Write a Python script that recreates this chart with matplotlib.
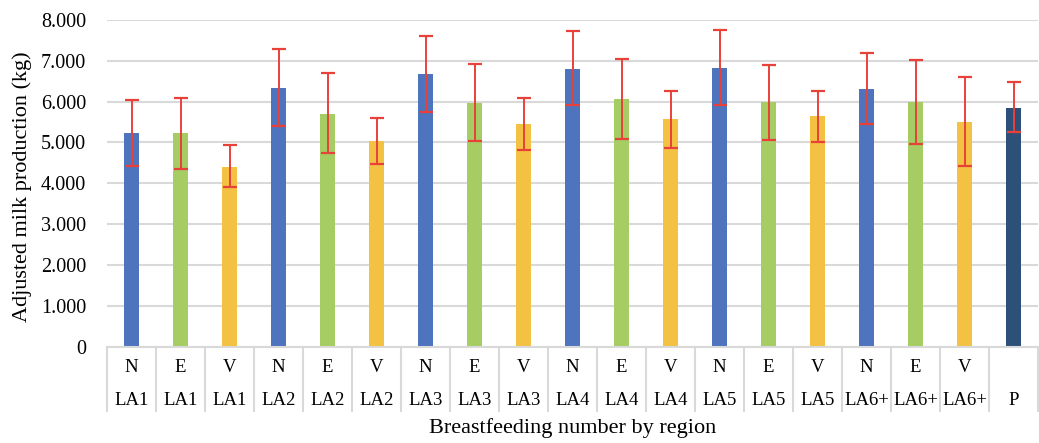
import numpy as np
import matplotlib.pyplot as plt
import matplotlib.transforms as mtransforms

# Values
regions = ['N', 'E', 'V'] * 6 + ['']
lactations = ['LA1'] * 3 + ['LA2'] * 3 + ['LA3'] * 3 + ['LA4'] * 3 + ['LA5'] * 3 + ['LA6+'] * 3 + ['P']
means = [5.22, 5.22, 4.41, 6.34, 5.70, 5.03, 6.68, 5.97, 5.44, 6.81,
         6.06, 5.57, 6.82, 5.99, 5.64, 6.31, 5.99, 5.50, 5.85]
err_top = [6.04, 6.09, 4.94, 7.29, 6.69, 5.60, 7.62, 6.92, 6.09, 7.72,
           7.04, 6.27, 7.76, 6.90, 6.27, 7.20, 7.02, 6.61, 6.48]
err_bottom = [4.42, 4.36, 3.91, 5.40, 4.74, 4.47, 5.75, 5.04, 4.82, 5.92,
              5.08, 4.87, 5.92, 5.06, 5.02, 5.45, 4.97, 4.43, 5.26]
yticks = [0, 1, 2, 3, 4, 5, 6, 7, 8]
ytick_labels = ['0', '1.000', '2.000', '3.000', '4.000', '5.000', '6.000', '7.000', '8.000']

colour_of = {'N': '#4F74BE', 'E': '#A5CD63', 'V': '#F4C242', '': '#2D5079'}

plt.rcParams['font.family'] = ['Liberation Serif', 'DejaVu Serif']

fig = plt.figure(figsize=(10.39, 4.43), dpi=100)
ax = fig.add_axes([107 / 1039, 1 - 346.5 / 443, (1038 - 107) / 1039, (346.5 - 20) / 443])

x = np.arange(len(means))
colours = [colour_of[r] for r in regions]
ax.bar(x, means, width=0.31, color=colours, zorder=2)

means_arr = np.array(means)
yerr = [means_arr - np.array(err_bottom), np.array(err_top) - means_arr]
ax.errorbar(x, means, yerr=yerr, fmt='none', ecolor='#E8413A', elinewidth=1.4,
            capsize=5, capthick=1.6, zorder=3)

ax.set_xlim(-0.5, len(means) - 0.5)
ax.set_ylim(0, 8)
ax.set_yticks(yticks)
ax.set_yticklabels(ytick_labels, fontsize=14.5)
ax.grid(axis='y', color='#D9D9D9', linewidth=1.5, zorder=0)
ax.set_axisbelow(True)
for side in ['top', 'right', 'left']:
    ax.spines[side].set_visible(False)
ax.spines['bottom'].set_color('#D9D9D9')
ax.spines['bottom'].set_linewidth(1.5)
ax.tick_params(axis='y', length=0, pad=15)
ax.tick_params(axis='x', length=0, labelbottom=False)
ax.set_xticks([])

# two-level category axis drawn as a small table
trans = mtransforms.blended_transform_factory(ax.transData, ax.transAxes)
px = 1 / (346.5 - 20)
for i in range(len(means) + 1):
    ax.plot([i - 0.5, i - 0.5], [0, -64 * px], transform=trans, color='#D9D9D9',
            linewidth=1.5, clip_on=False)
for i in range(len(means)):
    ax.text(i, -21 * px, regions[i], transform=trans, ha='center', va='center', fontsize=13.5)
    ax.text(i, -54 * px, lactations[i], transform=trans, ha='center', va='center', fontsize=13.5)

ax.text(0.5, -82 * px, 'Breastfeeding number by region', transform=ax.transAxes,
        ha='center', va='center', fontsize=16)
fig.text(22 / 1039, 1 - 187 / 443, 'Adjusted milk production (kg)', rotation=90,
         ha='center', va='center', fontsize=16)

fig.savefig('out.png', dpi=100)
